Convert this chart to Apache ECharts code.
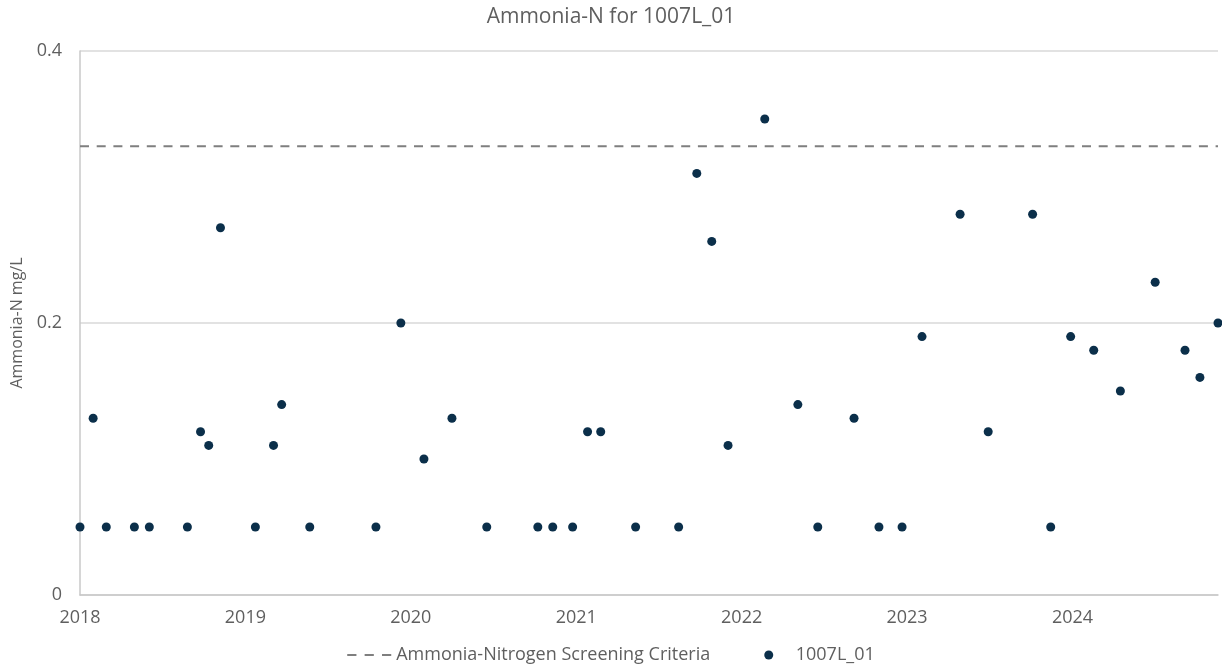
<!DOCTYPE html>
<html><head><meta charset="utf-8">
<script src="https://cdn.jsdelivr.net/npm/echarts@6/dist/echarts.min.js"></script>
<style>html,body{margin:0;padding:0;background:#fff}#c{width:1222px;height:672px}</style>
</head><body><div id="c"></div>
<script>
var sampleDates = ['2018-01-01','2018-01-30','2018-02-28','2018-05-01','2018-06-03','2018-08-26','2018-09-24','2018-10-12','2018-11-07',
 '2019-01-23','2019-03-04','2019-03-22','2019-05-23','2019-10-16','2019-12-10',
 '2020-01-30','2020-04-01','2020-06-17','2020-10-08','2020-11-10','2020-12-24',
 '2021-01-26','2021-02-24','2021-05-12','2021-08-15','2021-09-24','2021-10-27','2021-12-02',
 '2022-02-21','2022-05-05','2022-06-18','2022-09-06','2022-10-31','2022-12-21',
 '2023-02-03','2023-04-28','2023-06-29','2023-10-05','2023-11-14','2023-12-28',
 '2024-02-17','2024-04-16','2024-07-02','2024-09-06','2024-10-09','2024-11-18'];
var ammoniaValues = [0.05,0.13,0.05,0.05,0.05,0.05,0.12,0.11,0.27,
 0.05,0.11,0.14,0.05,0.05,0.20,
 0.10,0.13,0.05,0.05,0.05,0.05,
 0.12,0.12,0.05,0.05,0.31,0.26,0.11,
 0.35,0.14,0.05,0.13,0.05,0.05,
 0.19,0.28,0.12,0.28,0.05,0.19,
 0.18,0.15,0.23,0.18,0.16,0.20];
var criteriaValue = 0.33;
var criteriaRange = ['2018-01-01','2024-11-18'];
var seriesName = '1007L_01';
var criteriaName = 'Ammonia-Nitrogen Screening Criteria';

function decYear(s){
  var p = s.split('-').map(Number);
  var y = p[0];
  var start = Date.UTC(y,0,1), end = Date.UTC(y+1,0,1);
  return y + (Date.UTC(y,p[1]-1,p[2]) - start)/(end-start);
}
var pts = sampleDates.map(function(d,i){return [decYear(d), ammoniaValues[i]];});
var crit = criteriaRange.map(function(d){return [decYear(d), criteriaValue];});
var font = "'Open Sans', sans-serif";
var txt = '#5f5f5f';
var dotColor = '#0b2f4a';
var chart = echarts.init(document.getElementById('c'));
chart.setOption({
  animation:false,
  title:{text:'Ammonia-N for 1007L_01', left:'center', top:2, textStyle:{fontFamily:font, fontWeight:'normal', fontSize:21, color:txt}},
  grid:{left:80, right:4, top:51, bottom:77, outerBoundsMode:'none', containLabel:false},
  legend:{bottom:3, left:'center', itemGap:54, itemWidth:44, itemHeight:9, textStyle:{fontFamily:font, fontSize:18, color:txt},
    data:[{name:criteriaName, icon:'path://M0,0h9v2h-9zM17,0h9v2h-9zM34,0h9v2h-9z', itemStyle:{color:'#7f7f7f'}},
          {name:seriesName, icon:'circle', itemStyle:{color:dotColor}}]},
  xAxis:{type:'value', min:2018, max:decYear(criteriaRange[1]), interval:1,
    axisLine:{lineStyle:{color:'#c8c8c8', width:1.5}}, axisTick:{show:false}, splitLine:{show:false},
    axisLabel:{fontFamily:font, fontSize:18, color:txt, margin:14, showMaxLabel:false, formatter:function(v){return String(Math.round(v));}}},
  yAxis:{type:'value', min:0, max:0.4, interval:0.2, name:'Ammonia-N mg/L', nameLocation:'middle', nameGap:53,
    nameTextStyle:{fontFamily:font, fontSize:16, color:txt},
    axisLine:{show:true, lineStyle:{color:'#c8c8c8', width:1.5}}, axisTick:{show:false},
    splitLine:{lineStyle:{color:'#d9d9d9', width:1.5}},
    axisLabel:{fontFamily:font, fontSize:18, color:txt, margin:18, formatter:function(v){return v===0?'0':v.toFixed(1);}}},
  series:[
    {name:criteriaName, type:'line', data:crit, symbol:'none', lineStyle:{color:'#7f7f7f', width:2, type:[9,7.7]}, itemStyle:{color:'#7f7f7f'}, z:1},
    {name:seriesName, type:'scatter', data:pts, symbolSize:9, itemStyle:{color:dotColor, opacity:1}, clip:false, z:3}
  ]
});
</script></body></html>
